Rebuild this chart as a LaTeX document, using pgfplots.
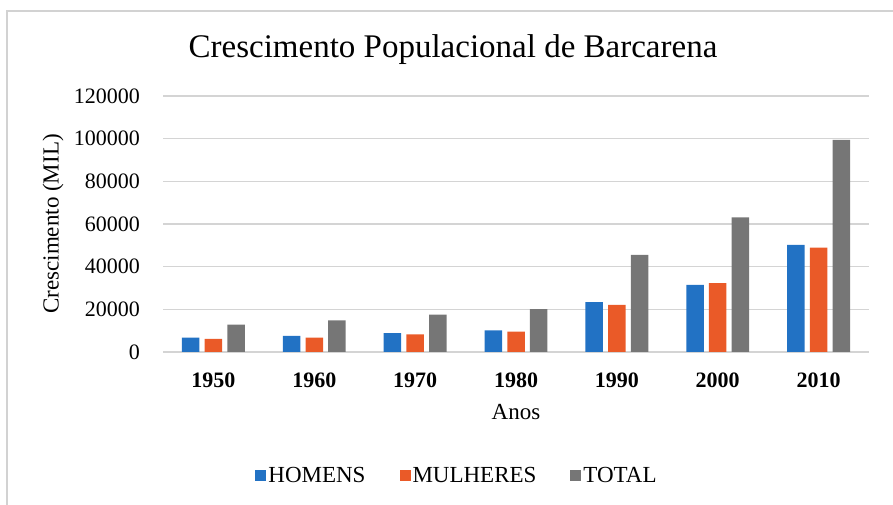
\documentclass[border=0pt]{standalone}
\usepackage{fontspec}
\setmainfont{Liberation Serif}
\usepackage{pgfplots}
\pgfplotsset{compat=1.18}
\definecolor{cblue}{RGB}{34,114,196}
\definecolor{corange}{RGB}{234,90,40}
\definecolor{cgray}{RGB}{118,118,118}
\definecolor{cgrid}{RGB}{212,212,212}
\definecolor{cframe}{RGB}{210,210,210}
\begin{document}
\begin{tikzpicture}[x=1bp,y=1bp]
\useasboundingbox (0,0) rectangle (893,505);
\draw[line width=1.3bp, color=cframe] (7,0) -- (7,494) -- (893,494);
\node[font=\fontsize{33bp}{40bp}\selectfont, inner sep=0pt] at (453,455) {Crescimento Populacional de Barcarena};
\begin{axis}[
  at={(163bp,153bp)}, anchor=south west,
  width=706bp, height=256bp, scale only axis,
  ymin=0, ymax=120000, xmin=-0.5, xmax=6.5,
  ybar=5.2bp, bar width=17.5bp,
  axis line style={draw=none},
  major tick length=0pt,
  ymajorgrids, grid style={line width=1.3bp, color=cgrid},
  ytick={0,20000,40000,60000,80000,100000,120000},
  scaled y ticks=false,
  /pgf/number format/fixed,
  /pgf/number format/1000 sep={},
  /pgf/number format/assume math mode=true,
  yticklabel style={font=\fontsize{22bp}{26bp}\selectfont, anchor=east, inner sep=0pt, xshift=-23bp},
  xtick={0,1,2,3,4,5,6},
  xticklabels={1950,1960,1970,1980,1990,2000,2010},
  xticklabel style={font=\fontsize{22bp}{26bp}\selectfont\bfseries, anchor=north, inner sep=0pt, yshift=-21bp},
  xlabel={Anos},
  xlabel style={at={(rel axis cs:0.5,0)}, anchor=base, inner sep=0pt, yshift=-68bp, font=\fontsize{23bp}{27bp}\selectfont},
  ylabel={Crescimento (MIL)},
  ylabel style={at={(axis description cs:-0.1558,0.5)}, anchor=center, inner sep=0pt, font=\fontsize{23bp}{27bp}\selectfont},
  legend columns=3,
  legend style={at={(rel axis cs:0.4164,-0.484)}, anchor=center, draw=none, fill=none,
    font=\fontsize{23bp}{27bp}\selectfont,
    /tikz/every even column/.append style={column sep=32bp}},
  legend image code/.code={\fill[#1] (0bp,-5.5bp) rectangle (11bp,5.5bp);},
]
\addplot[fill=cblue, draw=none] coordinates {(0,6750) (1,7500) (2,8900) (3,10160) (4,23330) (5,31460) (6,50230)};
\addplot[fill=corange, draw=none] coordinates {(0,6100) (1,6750) (2,8300) (3,9550) (4,22070) (5,32250) (6,48970)};
\addplot[fill=cgray, draw=none] coordinates {(0,12830) (1,14850) (2,17500) (3,20140) (4,45540) (5,63050) (6,99390)};
\legend{HOMENS, MULHERES, TOTAL}
\end{axis}
\end{tikzpicture}
\end{document}
